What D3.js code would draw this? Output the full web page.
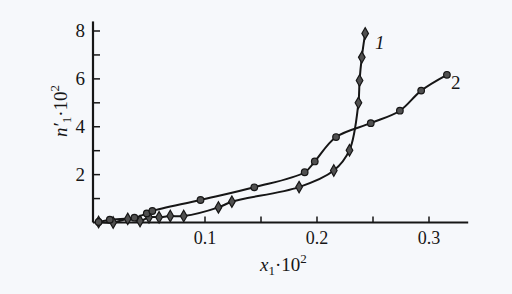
<!DOCTYPE html>
<html>
<head>
<meta charset="utf-8">
<script src="https://cdn.jsdelivr.net/npm/d3@7"></script>
<style>
  body { margin: 0; background: #f6f8fb; }
  svg { display: block; font-family: "Liberation Serif", "DejaVu Serif", serif; }
</style>
</head>
<body>
<svg id="chart" width="512" height="294"></svg>
<script>
// curve 1 (diamonds)
const x1 = [0.005, 0.018, 0.031, 0.042, 0.05, 0.059, 0.069, 0.081, 0.112, 0.124, 0.184, 0.215, 0.229, 0.237, 0.238, 0.240, 0.243];
const y1 = [0.02, 0.0, 0.15, 0.06, 0.22, 0.22, 0.27, 0.27, 0.63, 0.87, 1.48, 2.17, 3.02, 5.0, 5.93, 6.9, 7.9];
// curve 2 (circles)
const x2 = [0.005, 0.015, 0.037, 0.048, 0.053, 0.096, 0.144, 0.189, 0.198, 0.217, 0.248, 0.274, 0.293, 0.316];
const y2 = [0.02, 0.12, 0.2, 0.38, 0.48, 0.94, 1.47, 2.1, 2.55, 3.57, 4.15, 4.67, 5.51, 6.17];

const xMajor = [0.1, 0.2, 0.3];
const xMinor = [0.05, 0.15, 0.25];
const yMajor = [2, 4, 6, 8];
const yMinor = [1, 3, 5, 7];

const svg = d3.select("#chart");

const x = d3.scaleLinear().domain([0, 0.3]).range([93, 429]);
const y = d3.scaleLinear().domain([0, 8]).range([222.5, 31]);

const ink = "#161616";

// axes
svg.append("line")
    .attr("x1", x(0)).attr("x2", x(0.335))
    .attr("y1", y(0)).attr("y2", y(0))
    .attr("stroke", ink).attr("stroke-width", 2.2);
svg.append("line")
    .attr("x1", x(0)).attr("x2", x(0))
    .attr("y1", y(0)).attr("y2", y(8.4))
    .attr("stroke", ink).attr("stroke-width", 2.2);

// x ticks (pointing up)
svg.append("g").selectAll("line")
    .data(xMajor.concat(xMinor))
    .enter().append("line")
    .attr("x1", d => x(d)).attr("x2", d => x(d))
    .attr("y1", y(0)).attr("y2", y(0) - 6)
    .attr("stroke", ink).attr("stroke-width", 1.5);

svg.append("g").selectAll("text")
    .data(xMajor)
    .enter().append("text")
    .attr("x", d => x(d))
    .attr("y", 244)
    .attr("text-anchor", "middle")
    .attr("font-size", 18)
    .attr("fill", ink)
    .text(d => d.toFixed(1));

// y ticks (pointing right)
svg.append("g").selectAll("line")
    .data(yMajor.concat(yMinor))
    .enter().append("line")
    .attr("x1", x(0)).attr("x2", x(0) + 7)
    .attr("y1", d => y(d)).attr("y2", d => y(d))
    .attr("stroke", ink).attr("stroke-width", 1.5);

svg.append("g").selectAll("text")
    .data(yMajor)
    .enter().append("text")
    .attr("x", 85)
    .attr("y", d => y(d) + 6)
    .attr("text-anchor", "end")
    .attr("font-size", 19)
    .attr("fill", ink)
    .text(d => d);

// axis titles
const xt = svg.append("text")
    .attr("x", 260).attr("y", 271)
    .attr("font-size", 19).attr("fill", ink);
xt.append("tspan").attr("font-style", "italic").text("x");
xt.append("tspan").attr("font-size", 13).attr("dy", 4).text("1");
xt.append("tspan").attr("dy", -4).text("·10");
xt.append("tspan").attr("font-size", 13).attr("dy", -8).text("2");

const yt = svg.append("text")
    .attr("transform", "translate(67,137) rotate(-90)")
    .attr("font-size", 19).attr("fill", ink);
yt.append("tspan").attr("font-style", "italic").text("n′");
yt.append("tspan").attr("font-size", 13).attr("dy", 4).text("1");
yt.append("tspan").attr("dy", -4).text("·10");
yt.append("tspan").attr("font-size", 13).attr("dy", -8).text("2");

// curves
const pts1 = x1.map((v, i) => [v, y1[i]]);
const pts2 = x2.map((v, i) => [v, y2[i]]);

const line = d3.line()
    .x(d => x(d[0]))
    .y(d => y(d[1]))
    .curve(d3.curveCatmullRom.alpha(0.5));

svg.append("path").datum(pts1)
    .attr("d", line).attr("fill", "none")
    .attr("stroke", ink).attr("stroke-width", 2);
svg.append("path").datum(pts2)
    .attr("d", line).attr("fill", "none")
    .attr("stroke", ink).attr("stroke-width", 2);

// markers
svg.append("g").selectAll("path")
    .data(pts1)
    .enter().append("path")
    .attr("d", d3.symbol().type(d3.symbolDiamond).size(38))
    .attr("transform", d => `translate(${x(d[0])},${y(d[1])})`)
    .attr("fill", "#505050").attr("stroke", ink).attr("stroke-width", 1.2);

svg.append("g").selectAll("circle")
    .data(pts2)
    .enter().append("circle")
    .attr("cx", d => x(d[0])).attr("cy", d => y(d[1]))
    .attr("r", 3.3)
    .attr("fill", "#505050").attr("stroke", ink).attr("stroke-width", 1.2);

// curve labels
svg.append("text")
    .attr("x", 375).attr("y", 49)
    .attr("font-size", 19).attr("font-style", "italic").attr("fill", ink)
    .text("1");
svg.append("text")
    .attr("x", 451).attr("y", 89)
    .attr("font-size", 19).attr("fill", ink)
    .text("2");
</script>
</body>
</html>
